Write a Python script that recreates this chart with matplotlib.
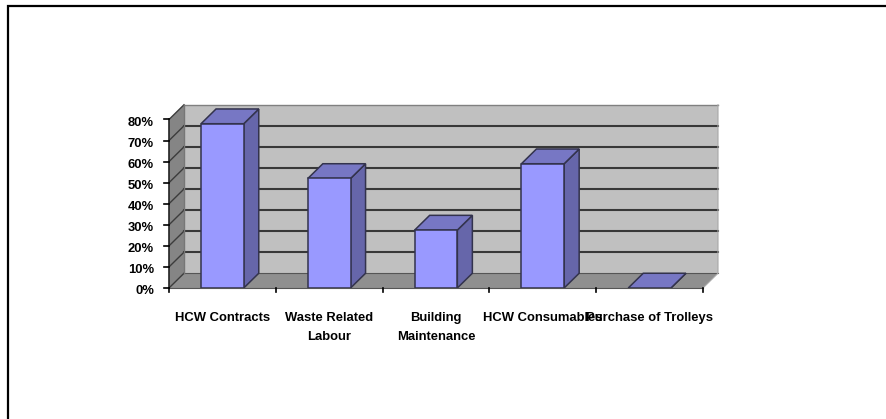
#!/usr/bin/env python3
"""
Cost share bar chart in the old Excel 3D style
"""

import matplotlib
matplotlib.use('Agg')
import matplotlib.pyplot as plt
from matplotlib.patches import Polygon, Rectangle

categories = ['HCW Contracts', 'Waste Related\nLabour', 'Building\nMaintenance',
              'HCW Consumables', 'Purchase of Trolleys']
values = [78, 52, 27.5, 59, 0]
y_ticks = [0, 10, 20, 30, 40, 50, 60, 70, 80]

W, H = 887, 419
plt.rcParams['font.family'] = ['Liberation Sans', 'DejaVu Sans']

fig = plt.figure(figsize=(W / 100, H / 100), dpi=100)

# outer frame
fig.add_artist(Rectangle((8 / W, -0.1), (W + 20) / W, 1.1 - 6.5 / H, transform=fig.transFigure,
                         fill=False, ec='black', lw=1.6))

# front plane of the axis box, everything else is offset from it
ax = fig.add_axes([169 / W, 1 - 288 / H, 534 / W, 168.5 / H])
ax.set_xlim(0, len(categories))
ax.set_ylim(0, 80)
ax.axis('off')

dx = 15 / 106.8
dy = 7.0
n = len(categories)
top = y_ticks[-1]
edge = '#33334d'


def poly(pts, fc, ec='none', lw=0, z=1):
    ax.add_patch(Polygon(pts, closed=True, fc=fc, ec=ec, lw=lw, zorder=z, clip_on=False))


# walls and floor
poly([(dx, dy), (n + dx, dy), (n + dx, top + dy), (dx, top + dy)], '#c0c0c0', z=1)
poly([(0, 0), (dx, dy), (dx, top + dy), (0, top)], '#858585', z=1)
poly([(0, 0), (n, 0), (n + dx, dy), (dx, dy)], '#8f8f8f', z=1)

# gridlines, the top one is hardly visible on the back wall
for t in y_ticks[1:-1]:
    ax.plot([dx, n + dx], [t + dy, t + dy], color='#383838', lw=1.5, zorder=2, clip_on=False)
for t in y_ticks:
    ax.plot([0, dx], [t, t + dy], color='#3c3c3c', lw=1.0, zorder=2, clip_on=False)
ax.plot([dx, n + dx], [dy, dy], color='#555555', lw=0.8, zorder=2, clip_on=False)
ax.plot([dx, n + dx], [top + dy, top + dy], color='#808080', lw=1, zorder=2, clip_on=False)
ax.plot([dx, dx], [dy, top + dy], color='#777777', lw=1, zorder=2, clip_on=False)
ax.plot([n + dx, n + dx, n], [top + dy, dy, 0], color='#a8a8a8', lw=0.8, zorder=2, clip_on=False)

# bars
bw = 0.4
for i, v in enumerate(values):
    x0 = i + 0.5 - bw / 2
    x1 = i + 0.5 + bw / 2
    poly([(x1, 0), (x1 + dx, dy), (x1 + dx, v + dy), (x1, v)], '#6666aa', edge, 1.1, 5)
    poly([(x0, v), (x1, v), (x1 + dx, v + dy), (x0 + dx, v + dy)], '#7777c4', edge, 1.1, 5)
    if v > 0:
        poly([(x0, 0), (x1, 0), (x1, v), (x0, v)], '#9999ff', edge, 1.1, 6)

# axis lines and ticks
ax.plot([0, 0], [0, top], color='#222222', lw=1.2, zorder=7, clip_on=False)
ax.plot([0, n], [0, 0], color='#555555', lw=0.8, zorder=7, clip_on=False)
px_x = 1 / 106.8
px_y = 80 / 168.5
for t in y_ticks:
    ax.plot([-5 * px_x, 0], [t, t], color='black', lw=1.2, zorder=7, clip_on=False)
    ax.text(-15 * px_x, t - 3 * px_y, f'{t}%', ha='right', va='center', fontsize=9.4, fontweight='bold')
for i in range(n + 1):
    ax.plot([i, i], [0, -4 * px_y], color='black', lw=1.2, zorder=7, clip_on=False)

for i, name in enumerate(categories):
    ax.text(i + 0.5, -24 * px_y, name, ha='center', va='top', fontsize=9.4, fontweight='bold',
            linespacing=1.8, zorder=8)

fig.savefig('out.png', dpi=100)
